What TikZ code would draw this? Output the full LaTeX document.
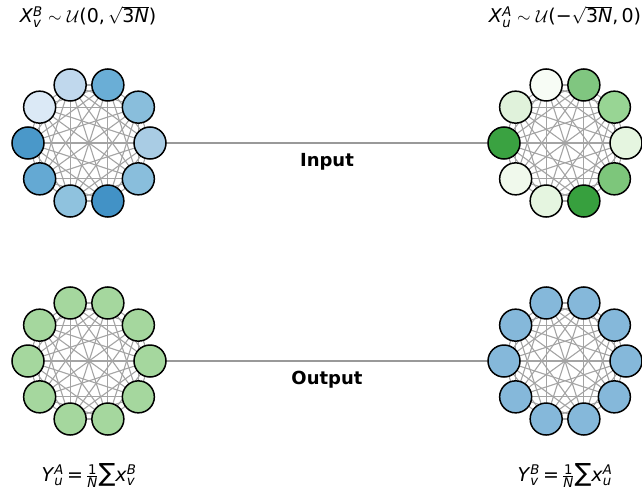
\documentclass[tikz,border=0pt]{standalone}
\usepackage{amsmath}
\usepackage{fontspec}
\setmainfont{DejaVu Sans}
\usetikzlibrary{backgrounds}
% top-left ring (blues)
\definecolor{tl0}{HTML}{A9CCE4}
\definecolor{tl1}{HTML}{89BEDC}
\definecolor{tl2}{HTML}{6AAED6}
\definecolor{tl3}{HTML}{C0D8ED}
\definecolor{tl4}{HTML}{DBE9F6}
\definecolor{tl5}{HTML}{4A98C9}
\definecolor{tl6}{HTML}{64A9D3}
\definecolor{tl7}{HTML}{8FC2DE}
\definecolor{tl8}{HTML}{4292C6}
\definecolor{tl9}{HTML}{89BEDC}
% top-right ring (greens)
\definecolor{tr0}{HTML}{E5F5E0}
\definecolor{tr1}{HTML}{98D594}
\definecolor{tr2}{HTML}{80C680}
\definecolor{tr3}{HTML}{F7FCF5}
\definecolor{tr4}{HTML}{E0F2DB}
\definecolor{tr5}{HTML}{3AA241}
\definecolor{tr6}{HTML}{F0F9EC}
\definecolor{tr7}{HTML}{E5F5E0}
\definecolor{tr8}{HTML}{37A03E}
\definecolor{tr9}{HTML}{7DC67B}
\definecolor{blfill}{HTML}{A5D79E}
\definecolor{brfill}{HTML}{85B8DA}
\definecolor{edgegray}{HTML}{A4A4A4}
\definecolor{linkgray}{HTML}{999999}
\tikzset{
  ringnode/.style={circle, draw=black, line width=1.5pt, minimum size=32pt, inner sep=0pt},
  edgeline/.style={draw=edgegray, line width=1.1pt},
  linkline/.style={draw=linkgray, line width=1.6pt},
  lbl/.style={font=\bfseries\fontsize{18}{20}\selectfont, inner sep=0pt},
  eq/.style={font=\fontsize{19}{22}\selectfont, inner sep=0pt}
}
\begin{document}
\begin{tikzpicture}[x=1pt,y=-1pt]
\useasboundingbox (0,0) rectangle (642,495);
% top rings
\foreach \r/\cx/\cy in {tl/89/143, tr/565/143} {
  \foreach \k in {0,...,9} {
    \node[ringnode, fill=\r\k] (\r\k) at ({\cx+61*cos(36*\k)},{\cy-61*sin(36*\k)}) {};
  }
}
% bottom rings
\foreach \k in {0,...,9} {
  \node[ringnode, fill=blfill] (bl\k) at ({89+61*cos(36*\k)},{361-61*sin(36*\k)}) {};
  \node[ringnode, fill=brfill] (br\k) at ({565+61*cos(36*\k)},{361-61*sin(36*\k)}) {};
}
\begin{scope}[on background layer]
  \foreach \r in {tl,tr,bl,br} {
    \foreach \i in {0,...,8} {
      \pgfmathtruncatemacro\s{\i+1}
      \foreach \j in {\s,...,9} {
        \draw[edgeline] (\r\i.center) -- (\r\j.center);
      }
    }
  }
  \draw[linkline] (tl0.center) -- (tr5.center);
  \draw[linkline] (bl0.center) -- (br5.center);
\end{scope}
\node[lbl] (inlbl) at (327,162) {Input};
\node[lbl] (outlbl) at (327,380) {Output};
\node[eq, anchor=base] (t1) at (88,23) {\textit{X}$^{\textit{B}}_{\textit{v}}$\;$\sim$\;$\mathcal{U}$(0,\,$\sqrt{\text{3}\textit{N}}$)};
\node[eq, anchor=base] (t2) at (565,23) {\textit{X}$^{\textit{A}}_{\textit{u}}$\;$\sim$\;$\mathcal{U}$(−$\sqrt{\text{3}\textit{N}}$,\,0)};
\node[eq, anchor=base] (b1) at (89,481) {\textit{Y}$^{\textit{A}}_{\textit{u}}$\,=\,$\frac{\text{1}}{\textit{N}}${\fontsize{25}{25}\selectfont ∑}\textit{x}$^{\textit{B}}_{\textit{v}}$};
\node[eq, anchor=base] (b2) at (565,481) {\textit{Y}$^{\textit{B}}_{\textit{v}}$\,=\,$\frac{\text{1}}{\textit{N}}${\fontsize{25}{25}\selectfont ∑}\textit{x}$^{\textit{A}}_{\textit{u}}$};
\end{tikzpicture}
\end{document}
